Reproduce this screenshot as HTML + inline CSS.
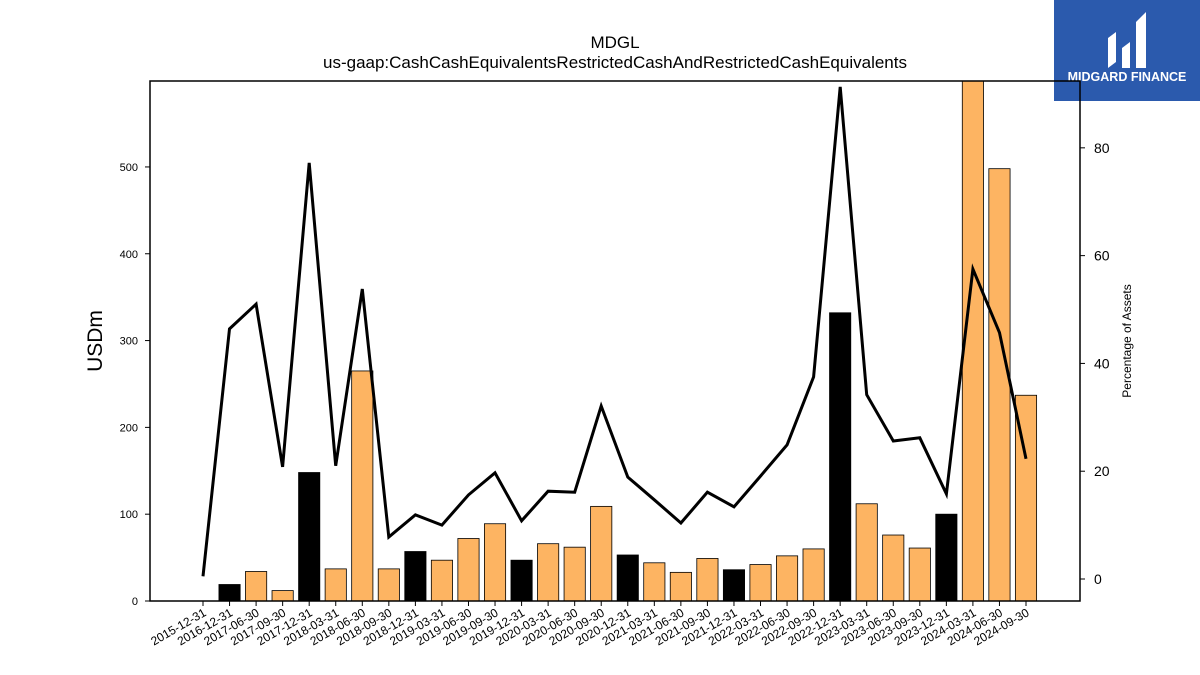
<!DOCTYPE html>
<html><head><meta charset="utf-8"><style>
body{margin:0;background:#fff;font-family:"Liberation Sans","DejaVu Sans",sans-serif}
svg{display:block}
</style></head><body>
<svg id="chart" width="1200" height="675">
<text x="615" y="48" text-anchor="middle" font-size="17">MDGL</text>
<text x="615" y="68" text-anchor="middle" font-size="17">us-gaap:CashCashEquivalentsRestrictedCashAndRestrictedCashEquivalents</text>
<text transform="translate(102,341) rotate(-90)" text-anchor="middle" font-size="21">USDm</text>
<text transform="translate(1131,341) rotate(-90)" text-anchor="middle" font-size="12">Percentage of Assets</text>
<g>
<rect x="1054" y="0" width="146" height="101" fill="#2b5aad"/>
<path d="M1108 68 L1108 38 L1116 32 L1116 62 Z M1122 48 L1130 42 L1130 68 L1122 68 Z M1136 22 L1146 12 L1146 68 L1136 68 Z" fill="#fff"/>
<text x="1127" y="81" text-anchor="middle" font-size="12.5" font-weight="bold" fill="#fff">MIDGARD FINANCE</text>
</g>
<g id="plot"></g>
</svg>
<script>
const categories=["2015-12-31","2016-12-31","2017-06-30","2017-09-30","2017-12-31","2018-03-31","2018-06-30","2018-09-30","2018-12-31","2019-03-31","2019-06-30","2019-09-30","2019-12-31","2020-03-31","2020-06-30","2020-09-30","2020-12-31","2021-03-31","2021-06-30","2021-09-30","2021-12-31","2022-03-31","2022-06-30","2022-09-30","2022-12-31","2023-03-31","2023-06-30","2023-09-30","2023-12-31","2024-03-31","2024-06-30","2024-09-30"];
const cashValues=[0,19,34,12,148,37,265,37,57,47,72,89,47,66,62,109,53,44,33,49,36,42,52,60,332,112,76,61,100,610,498,237];
const pctAssets=[0.5,46.4,51,20.8,77.2,21,53.8,7.8,11.9,10,15.6,19.7,10.8,16.3,16.1,32.1,18.9,14.7,10.4,16.1,13.4,19.1,24.9,37.5,91.3,34.2,25.6,26.2,15.8,57.5,45.7,22.3];
const leftTicks=[0,100,200,300,400,500];
const rightTicks=[0,20,40,60,80];
const NS="http://www.w3.org/2000/svg";
const L=150,R=1080,T=81,B=601;
const x0=203,x1=1026;
const xs=i=>x0+(x1-x0)*i/(categories.length-1);
const yL=v=>B-(v/599)*(B-T);
const yR=v=>B-((v+4.08)/(92.4+4.08))*(B-T);
const g=document.getElementById('plot');
function mk(t,a){const e=document.createElementNS(NS,t);for(const k in a)e.setAttribute(k,a[k]);g.appendChild(e);return e;}
const cp=mk('clipPath',{id:'clip'});cp.appendChild(Object.assign(document.createElementNS(NS,'rect')));
cp.firstChild.setAttribute('x',L);cp.firstChild.setAttribute('y',T);cp.firstChild.setAttribute('width',R-L);cp.firstChild.setAttribute('height',B-T);
const bw=(x1-x0)/(categories.length-1)*0.8;
cashValues.forEach((v,i)=>{
 const isQ4=categories[i].endsWith('12-31');
 const y=Math.max(yL(v),T);
 const r=mk('rect',{x:xs(i)-bw/2,y:y,width:bw,height:B-y,fill:isQ4?'#000':'#fdb462',stroke:'#000','stroke-width':0.8,'clip-path':'url(#clip)'});
 
 
});
const pts=pctAssets.map((v,i)=>xs(i).toFixed(1)+','+yR(v).toFixed(1)).join(' ');
const ln=mk('polyline',{points:pts,fill:'none',stroke:'#000','stroke-width':3,'stroke-linejoin':'miter'});


const fr=mk('rect',{x:L,y:T,width:R-L,height:B-T,fill:'none',stroke:'#000','stroke-width':1.5});


leftTicks.forEach(v=>{
 mk('line',{x1:L-5,x2:L,y1:yL(v),y2:yL(v),stroke:'#000'});
 const t=mk('text',{x:L-12,y:yL(v)+4,'text-anchor':'end','font-size':11});t.textContent=v;
 
 
});
rightTicks.forEach(v=>{
 mk('line',{x1:R,x2:R+5,y1:yR(v),y2:yR(v),stroke:'#000'});
 const t=mk('text',{x:R+14,y:yR(v)+5,'font-size':14});t.textContent=v;
 
 
});
categories.forEach((c,i)=>{
 mk('line',{x1:xs(i),x2:xs(i),y1:B,y2:B+5,stroke:'#000'});
 const t=mk('text',{transform:`translate(${xs(i)+4},${B+14}) rotate(-30)`,'text-anchor':'end','font-size':12});t.textContent=c;
 
 
});
</script>
</body></html>
